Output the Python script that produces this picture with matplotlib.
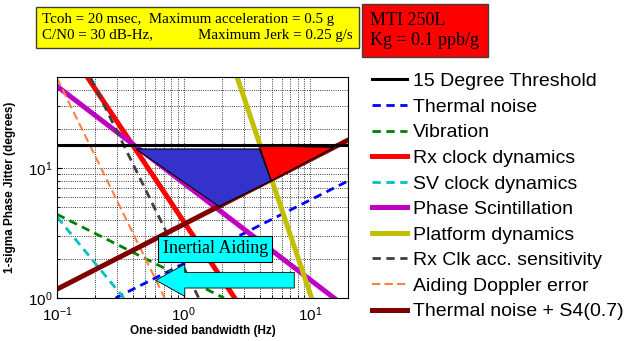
import matplotlib.pyplot as plt
from matplotlib.patches import Polygon

# loop bandwidth (Hz) / 1-sigma jitter (deg)
thresh_x = [0.1, 20]
thresh_y = [15, 15]
thermal_x = [0.29, 21.3]
thermal_y = [1.0, 8.2]
vib_x = [0.1, 2.09]
vib_y = [4.4, 1.0]
rxclk_x = [0.176, 2.54]
rxclk_y = [49, 1.0]
svclk_x = [0.1, 0.337]
svclk_y = [4.2, 1.0]
scint_x = [0.1, 15.5]
scint_y = [42.5, 1.0]
platform_x = [2.67, 10.3]
platform_y = [49, 1.0]
rxacc_x = [0.185, 1.32]
rxacc_y = [49, 1.0]
doppler_x = [0.1, 0.71]
doppler_y = [49, 1.0]
ts4_x = [0.1, 1.9, 21.3]
ts4_y = [1.17, 5.07, 16.9]

# shaded regions
blue_x = [0.42, 1.905, 4.94, 3.98]
blue_y = [14.0, 5.07, 8.0, 14.0]
red_x = [3.98, 4.94, 15.4]
red_y = [14.8, 8.0, 14.4]

plt.rcParams['font.family'] = ['Liberation Sans', 'DejaVu Sans']

fig = plt.figure(figsize=(6.41, 3.41), dpi=100)
ax = fig.add_axes([0.089, 0.126, 0.454, 0.648])

dash = (0, (3, 2))
ax.plot(thresh_x, thresh_y, color='black', lw=2.2, label='15 Degree Threshold', zorder=6)
ax.plot(thermal_x, thermal_y, color='#0000ff', lw=2, ls=dash, label='Thermal noise')
ax.plot(vib_x, vib_y, color='#008000', lw=2, ls=dash, label='Vibration')
ax.plot(rxclk_x, rxclk_y, color='#ff0000', lw=3.6, label='Rx clock dynamics')
ax.plot(svclk_x, svclk_y, color='#00c0c0', lw=2, ls=dash, label='SV clock dynamics')
ax.plot(scint_x, scint_y, color='#c000c0', lw=3.6, label='Phase Scintillation')
ax.plot(platform_x, platform_y, color='#c0c000', lw=3.6, label='Platform dynamics')
ax.plot(rxacc_x, rxacc_y, color='#404040', lw=2, ls=dash, label='Rx Clk acc. sensitivity')
ax.plot(doppler_x, doppler_y, color='#ff8040', lw=1.5, ls=(0, (4, 2)), label='Aiding Doppler error')
ax.plot(ts4_x, ts4_y, color='#800000', lw=3.6, label='Thermal noise + S4(0.7)')

ax.add_patch(Polygon(list(zip(blue_x, blue_y)), closed=True, facecolor='#3333cc',
                     edgecolor='black', lw=0.8, zorder=4))
ax.add_patch(Polygon(list(zip(red_x, red_y)), closed=True, facecolor='#ff0000',
                     edgecolor='black', lw=0.8, zorder=4))

ax.set_xscale('log')
ax.set_yscale('log')
ax.set_xlim(0.1, 20)
ax.set_ylim(1, 50)
ax.grid(True, which='both', color='black', ls=':', lw=0.6)
ax.tick_params(which='both', direction='in', labelsize=11)
ax.tick_params(axis='x', pad=5)
ax.set_xlabel('One-sided bandwidth (Hz)', fontsize=8.5, fontweight='bold', labelpad=1)
ax.set_ylabel('1-sigma Phase Jitter (degrees)', fontsize=8.5, fontweight='bold', labelpad=8)

# inertial aiding annotation
ax.text(1.78, 2.4, 'Inertial Aiding', family='Liberation Serif', fontsize=13,
        ha='center', va='center', zorder=8,
        bbox=dict(boxstyle='square,pad=0.25', facecolor='#00ffff', edgecolor='black', lw=0.8))
ax.annotate('', xy=(0.575, 1.37), xytext=(7.9, 1.37), zorder=8,
            arrowprops=dict(arrowstyle='simple,head_length=1.3,head_width=1.45,tail_width=0.7',
                            mutation_scale=16, facecolor='#00ffff', edgecolor='black', lw=0.6))

fig.legend(loc='upper left', bbox_to_anchor=(0.568, 0.81), frameon=False,
           fontsize=14, handlelength=1.8, handletextpad=0.3, labelspacing=0.41,
           borderaxespad=0)

fig.text(0.066, 0.918, 'Tcoh = 20 msec,  Maximum acceleration = 0.5 g\n'
         'C/N0 = 30 dB-Hz,            Maximum Jerk = 0.25 g/s',
         family='Liberation Serif', fontsize=10.8, va='center', ha='left', linespacing=1.3,
         bbox=dict(boxstyle='square,pad=0.4', facecolor='#ffff00', edgecolor='#404040', lw=1))
fig.text(0.578, 0.91, 'MTI 250L\nKg = 0.1 ppb/g',
         family='Liberation Serif', fontsize=13, va='center', ha='left', linespacing=1.25,
         bbox=dict(boxstyle='square,pad=0.45', facecolor='#ff0000', edgecolor='#404040', lw=1))

fig.savefig('out.png', dpi=100)
